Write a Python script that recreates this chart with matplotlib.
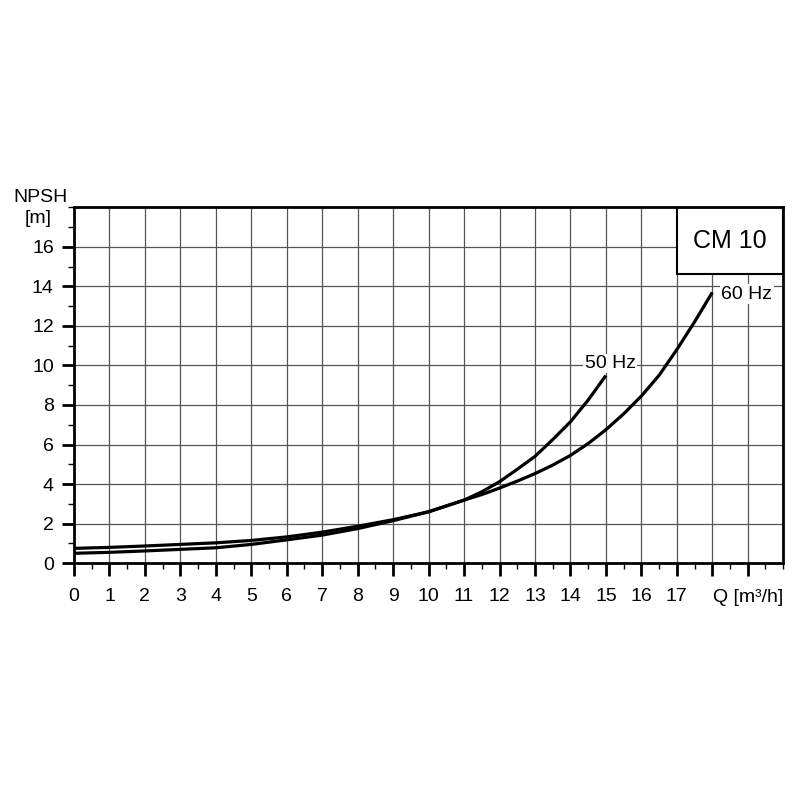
import numpy as np
import matplotlib.pyplot as plt
from matplotlib.patches import Rectangle
from matplotlib.ticker import MultipleLocator

plt.rcParams['font.family'] = ['Liberation Sans', 'DejaVu Sans']

# NPSH curves
q_60 = [0, 1, 2, 3, 4, 5, 6, 7, 8, 9, 10, 11, 11.5, 12, 12.5, 13, 13.5, 14,
        14.5, 15, 15.5, 16, 16.5, 17, 17.5, 18]
npsh_60 = [0.75, 0.8, 0.87, 0.95, 1.03, 1.15, 1.33, 1.57, 1.87, 2.2, 2.6,
           3.19, 3.47, 3.8, 4.15, 4.53, 4.96, 5.45, 6.05, 6.75, 7.55, 8.45,
           9.5, 10.8, 12.2, 13.69]
q_50 = [0, 1, 2, 3, 4, 5, 6, 7, 8, 9, 10, 11, 11.5, 12, 12.5, 13, 13.5, 14,
        14.5, 15]
npsh_50 = [0.5, 0.55, 0.62, 0.7, 0.78, 0.95, 1.18, 1.42, 1.75, 2.15, 2.6,
           3.19, 3.61, 4.12, 4.75, 5.4, 6.25, 7.15, 8.25, 9.49]

x_ticks = list(range(0, 20))
x_labels = [str(i) for i in range(0, 18)] + ['', '']
y_ticks = list(range(0, 17, 2))
y_labels = [str(i) for i in y_ticks]

fig = plt.figure(figsize=[8, 8], dpi=100)
ax = fig.add_axes([0.0925, 0.296, 0.8865, 0.445])

ax.set_xlim(0, 20)
ax.set_ylim(0, 18)

# grid
for xv in range(1, 20):
    ax.axvline(xv, color='#555555', lw=0.9, zorder=1)
for yv in range(2, 18, 2):
    ax.axhline(yv, color='#555555', lw=0.9, zorder=1)

ax.plot(q_60, npsh_60, color='black', lw=2.3, zorder=3, solid_capstyle='butt',
        solid_joinstyle='round')
ax.plot(q_50, npsh_50, color='black', lw=2.3, zorder=3, solid_capstyle='butt',
        solid_joinstyle='round')

ax.text(14.4, 10.1, '50 Hz', fontsize=14, ha='left', va='center', zorder=4,
        bbox=dict(facecolor='white', edgecolor='none', pad=1))
ax.text(18.25, 13.6, '60 Hz', fontsize=14, ha='left', va='center', zorder=4,
        bbox=dict(facecolor='white', edgecolor='none', pad=1))

# CM 10 box
ax.add_patch(Rectangle((17, 14.6), 3, 3.4, facecolor='white', edgecolor='black',
                       lw=1.5, zorder=5))
ax.text(18.5, 16.3, 'CM 10', fontsize=18, ha='center', va='center', zorder=6)

ax.set_xticks(x_ticks)
ax.set_xticklabels(x_labels)
ax.set_yticks(y_ticks)
ax.set_yticklabels(y_labels)
ax.xaxis.set_minor_locator(MultipleLocator(0.5))
ax.yaxis.set_minor_locator(MultipleLocator(1))
ax.tick_params(which='major', length=9, width=2, labelsize=14, pad=9, direction='out')
ax.tick_params(which='minor', length=4.5, width=1, direction='out')
ax.tick_params(axis='y', which='major', pad=5.5)

for s in ax.spines.values():
    s.set_linewidth(2)
    s.set_zorder(7)

ax.text(-0.0085, 1.028, 'NPSH', transform=ax.transAxes, fontsize=14,
        ha='right', va='center')
ax.text(-0.05, 0.969, '[m]', transform=ax.transAxes, fontsize=14,
        ha='center', va='center')
ax.text(1.0, -0.095, 'Q [m³/h]', transform=ax.transAxes, fontsize=14,
        ha='right', va='center')

fig.savefig('out.png', dpi=100, facecolor='white')
